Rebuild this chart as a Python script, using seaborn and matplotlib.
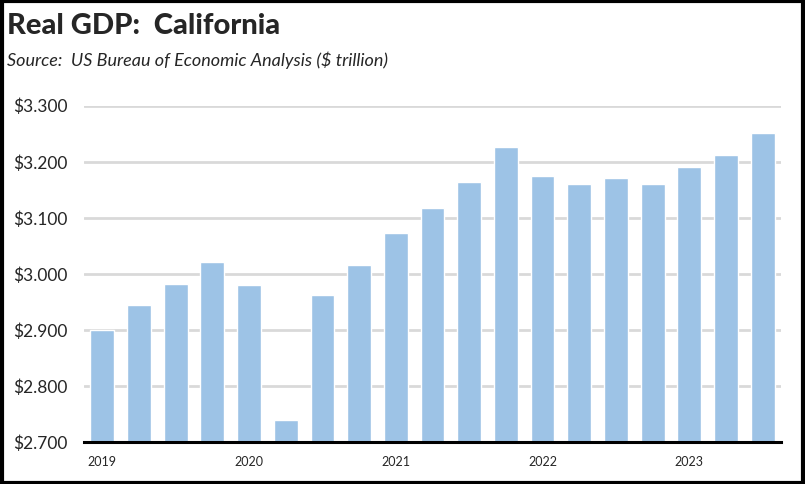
# Real GDP California quarterly bar chart
import matplotlib
matplotlib.use("Agg")
import matplotlib.pyplot as plt
import matplotlib.patches as mpatches
import pandas as pd
import seaborn as sns

years = ["2019", "2020", "2021", "2022", "2023"]
quarters = ["2019Q1", "2019Q2", "2019Q3", "2019Q4",
            "2020Q1", "2020Q2", "2020Q3", "2020Q4",
            "2021Q1", "2021Q2", "2021Q3", "2021Q4",
            "2022Q1", "2022Q2", "2022Q3", "2022Q4",
            "2023Q1", "2023Q2", "2023Q3"]
gdp = [2.900, 2.945, 2.982, 3.021,
       2.980, 2.739, 2.962, 3.016,
       3.073, 3.118, 3.164, 3.227,
       3.175, 3.161, 3.171, 3.161,
       3.191, 3.212, 3.252]
y_ticks = [2.7, 2.8, 2.9, 3.0, 3.1, 3.2, 3.3]

gdp_df = pd.DataFrame({"quarter": quarters, "gdp": gdp})

sns.set_style("white")
plt.rcParams["font.family"] = ["Lato", "DejaVu Sans"]

fig = plt.figure(figsize=(8.05, 4.84), dpi=100)
ax = fig.add_axes([0.1043, 0.0868, 0.8659, 0.6948])

sns.barplot(data=gdp_df, x="quarter", y="gdp", color="#9DC3E6",
            saturation=1, width=0.65, ax=ax)

ax.set_ylim(2.7, 3.3)
ax.set_xlim(-0.5, len(quarters) - 0.5)
ax.set_yticks(y_ticks)
ax.set_yticklabels([f"${v:.3f}" for v in y_ticks], fontsize=12.5, color="#262626")
ax.yaxis.grid(True, color="#D9D9D9", linewidth=2)
ax.set_axisbelow(True)
ax.tick_params(axis="y", length=0, pad=12)

# year labels under first quarter of each year, tick marks between quarters
ax.set_xticks([i for i, q in enumerate(quarters) if q.endswith("Q1")])
ax.set_xticklabels(years, fontsize=9, color="#262626")
ax.set_xticks([i - 0.5 for i in range(len(quarters) + 1)], minor=True)
ax.tick_params(axis="x", which="major", length=0, pad=10)
ax.tick_params(axis="x", which="minor", length=8, width=1.8,
               direction="inout", color="black")
ax.set_xlabel("")
ax.set_ylabel("")

for side in ["top", "right", "left"]:
    ax.spines[side].set_visible(False)
ax.spines["bottom"].set_color("black")
ax.spines["bottom"].set_linewidth(2.2)

fig.text(0.009, 0.973, "Real GDP:  California", fontsize=21,
         fontweight="black", va="top", ha="left")
fig.text(0.009, 0.893, "Source:  US Bureau of Economic Analysis ($ trillion)",
         fontsize=13, style="italic", va="top", ha="left")

# black border around the figure
fig.patches.append(mpatches.Rectangle((0.002, 0.003), 0.996, 0.994,
                                      transform=fig.transFigure, fill=False,
                                      edgecolor="black", linewidth=3))

fig.savefig("out.png", dpi=100)
